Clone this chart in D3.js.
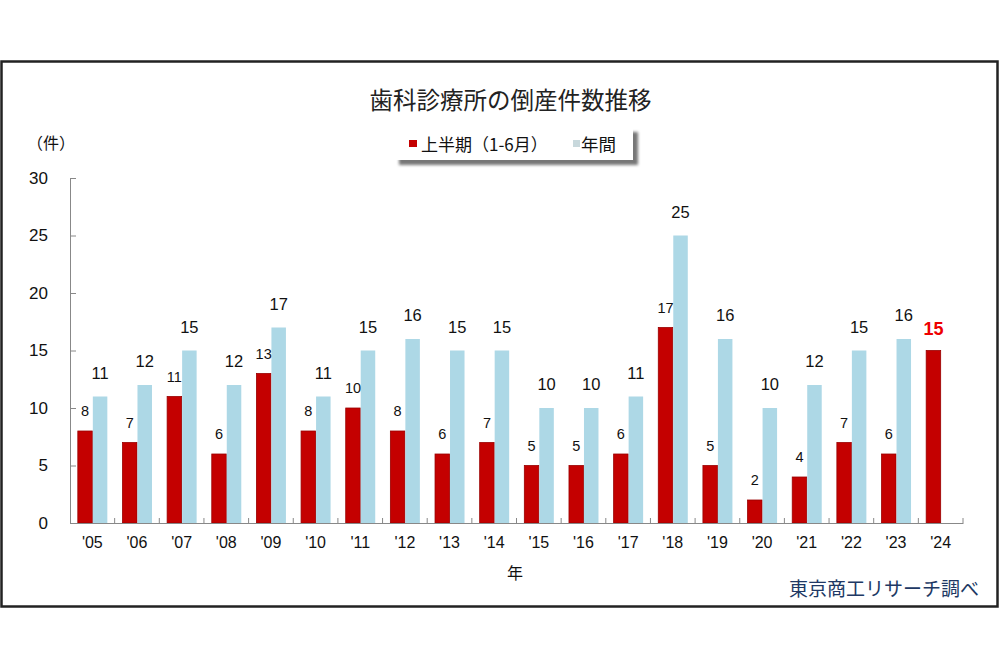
<!DOCTYPE html>
<html><head><meta charset="utf-8">
<script src="https://cdn.jsdelivr.net/npm/d3@7"></script>
<style>body{margin:0;background:#fff;} svg{display:block;font-family:"Noto Sans CJK JP","Noto Sans",sans-serif;}</style>
</head><body>
<svg id="c" width="1000" height="670"></svg>
<script>
const years = ["'05","'06","'07","'08","'09","'10","'11","'12","'13","'14","'15","'16","'17","'18","'19","'20","'21","'22","'23","'24"];
const firstHalf = [8,7,11,6,13,8,10,8,6,7,5,5,6,17,5,2,4,7,6,15];
const annual = [11,12,15,12,17,11,15,16,15,15,10,10,11,25,16,10,12,15,16,null];
const yTicks = [0,5,10,15,20,25,30];
const seriesNames = ["上半期（1-6月）","年間"];
const colors = ["#c40000","#add8e6"];

(function(){
const svg = d3.select("#c");
const defs = svg.append("defs");
defs.append("filter").attr("id","blur").append("feGaussianBlur").attr("stdDeviation",1.5);

svg.append("rect").attr("x",1.5).attr("y",61.5).attr("width",996).attr("height",545)
  .attr("fill","#fff").attr("stroke","#222").attr("stroke-width",2.5);

const pL=70, pR=963, pT=178, pB=523;
const x = d3.scaleBand().domain(years).range([pL,pR]);
const y = d3.scaleLinear().domain([0,30]).range([pB,pT]);
const bw = 14.5;
const numFont = "Liberation Sans, Arial, sans-serif";

svg.append("text").attr("x",510.5).attr("y",109).attr("text-anchor","middle")
  .attr("font-size",23.5).attr("fill","#222").text("歯科診療所の倒産件数推移");

const lg = svg.append("g");
lg.append("rect").attr("x",399).attr("y",132).attr("width",239).attr("height",33).attr("fill","#777").attr("filter","url(#blur)");
lg.append("rect").attr("x",394).attr("y",127).attr("width",239).attr("height",33).attr("fill","#fff");
lg.append("rect").attr("x",409).attr("y",140).attr("width",8).attr("height",7).attr("fill",colors[0]);
lg.append("text").attr("x",421).attr("y",151).attr("font-size",17).attr("fill","#111").text(seriesNames[0]);
lg.append("rect").attr("x",573).attr("y",140).attr("width",7).attr("height",7).attr("fill","#c8d8dc");
lg.append("text").attr("x",581).attr("y",151).attr("font-size",17.5).attr("fill","#111").text(seriesNames[1]);

svg.append("text").attr("x",27).attr("y",149).attr("font-size",16).attr("fill","#111").text("（件）");

const yAxis = d3.axisLeft(y).tickValues(yTicks).tickSize(-6).tickPadding(22);
const ya = svg.append("g").attr("transform",`translate(${pL},0)`).call(yAxis);
ya.select(".domain").attr("stroke","#888");
ya.selectAll(".tick line").attr("stroke","#888");
ya.selectAll(".tick text").attr("font-size",17).attr("fill","#111").attr("font-family",numFont);

const g = svg.append("g");
g.selectAll(".h").data(years).join("rect")
  .attr("x",d=>x(d)+x.bandwidth()/2-bw).attr("width",bw)
  .attr("y",(d,i)=>y(firstHalf[i])).attr("height",(d,i)=>pB-y(firstHalf[i]))
  .attr("fill",colors[0]).attr("stroke","#9a0000").attr("stroke-width",0.8);
const aYears = years.filter((d,i)=>annual[i]!=null);
g.selectAll(".a").data(aYears).join("rect")
  .attr("x",d=>x(d)+x.bandwidth()/2+0.5).attr("width",bw)
  .attr("y",d=>y(annual[years.indexOf(d)])).attr("height",d=>pB-y(annual[years.indexOf(d)]))
  .attr("fill",colors[1]);

const last = years.length-1;
g.selectAll(".hl").data(years).join("text")
  .attr("x",d=>x(d)+x.bandwidth()/2-bw/2).attr("y",(d,i)=>y(firstHalf[i])-(i===last?16:15))
  .attr("text-anchor","middle").attr("font-family",numFont)
  .attr("font-size",(d,i)=>i===last?18:14.5)
  .attr("font-weight",(d,i)=>i===last?"bold":"normal")
  .attr("fill",(d,i)=>i===last?"#ee0000":"#111")
  .text((d,i)=>firstHalf[i]);
g.selectAll(".al").data(aYears).join("text")
  .attr("x",d=>x(d)+x.bandwidth()/2+0.5+bw/2).attr("y",d=>y(annual[years.indexOf(d)])-18)
  .attr("text-anchor","middle").attr("font-family",numFont)
  .attr("font-size",16.5).attr("fill","#111")
  .text(d=>annual[years.indexOf(d)]);

const xAxis = d3.axisBottom(x).tickSize(0).tickPadding(14);
const xa = svg.append("g").attr("transform",`translate(0,${pB})`).call(xAxis);
xa.select(".domain").attr("stroke","#888");
xa.selectAll(".tick text").attr("font-size",16).attr("fill","#111").attr("font-family",numFont);
const minor = years.map((d,i)=> i<last ? x(years[i+1]) : pR);
svg.append("g").selectAll("line").data(minor).join("line")
  .attr("x1",d=>d).attr("x2",d=>d)
  .attr("y1",pB).attr("y2",pB-5).attr("stroke","#888");

svg.append("text").attr("x",515).attr("y",579).attr("text-anchor","middle").attr("font-size",16).attr("fill","#111").text("年");
svg.append("text").attr("x",979).attr("y",596).attr("text-anchor","end").attr("font-size",19).attr("fill","#203864").text("東京商工リサーチ調べ");
})();
</script>
</body></html>
